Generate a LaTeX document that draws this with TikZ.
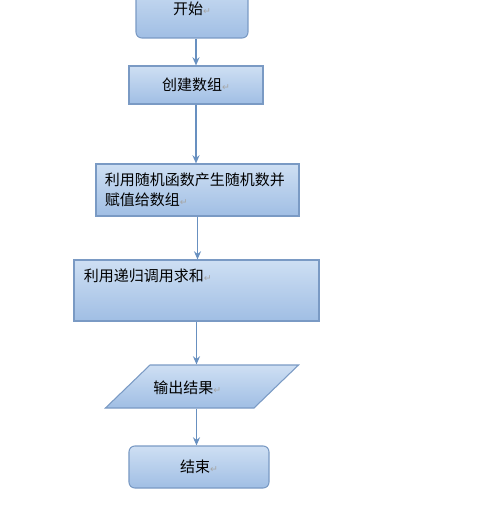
\documentclass[tikz,border=0pt]{standalone}
\usepackage{fontspec}
\setmainfont{Noto Sans CJK SC}
\newfontfamily\markfont{DejaVu Sans}
\usepackage{xcolor}
\usetikzlibrary{shapes.geometric,arrows.meta}
\definecolor{boxtop}{RGB}{206,223,243}
\definecolor{boxbot}{RGB}{160,190,228}
\definecolor{boxline}{RGB}{122,154,196}
\definecolor{flowline}{RGB}{104,144,192}
\newcommand{\pmark}{{\markfont\fontsize{8}{8}\selectfont\textcolor{gray!70}{↵}}}

\begin{document}
\begin{tikzpicture}[x=0.03cm,y=-0.03cm,
    box/.style={draw=boxline,line width=0.9pt,top color=boxtop,bottom color=boxbot,
      font=\fontsize{12.8}{17}\selectfont,inner sep=0pt},
    flow/.style={-{Stealth[length=7pt,width=6pt]},draw=flowline,line width=1.4pt}]
        \useasboundingbox (0,0) rectangle (476,510);
        \node[box,rounded corners=5pt,minimum width=3.36cm,minimum height=1.74cm] (start) at (192,9) {开始\pmark};
        \node[box,minimum width=4.02cm,minimum height=1.14cm] (create) at (196,85) {创建数组\pmark};
        \node[box,minimum width=6.09cm,minimum height=1.56cm,text width=5.55cm,align=left,inner xsep=0.27cm] (rand) at (197.5,190) {利用随机函数产生随机数并\\赋值给数组\pmark};
        \node[box,minimum width=7.35cm,minimum height=1.83cm,text width=6.75cm,align=left,inner xsep=0.3cm,text height=0.5cm,text depth=1.05cm] (sum) at (196.5,290.5) {利用递归调用求和\pmark};
        \node[box,trapezium,trapezium left angle=44,trapezium right angle=136,text width=3.12cm,align=left,text height=0.84cm,text depth=0.45cm] (out) at (202,386.5) {\hspace*{0.1cm}输出结果\pmark};
        \node[box,rounded corners=5pt,minimum width=4.2cm,minimum height=1.26cm] (stop) at (199,467) {结束\pmark};
        \draw[flow] (start.south -| create.north) -- (create.north);
        \draw[flow] (create.south) -- (create.south |- rand.north);
        \draw[flow] (rand.south) -- (rand.south |- sum.north);
        \draw[flow] (sum.south) -- (sum.south |- out.north);
        \draw[flow] (out.south -| sum.south) -- (sum.south |- stop.north);
      \end{tikzpicture}
\end{document}
